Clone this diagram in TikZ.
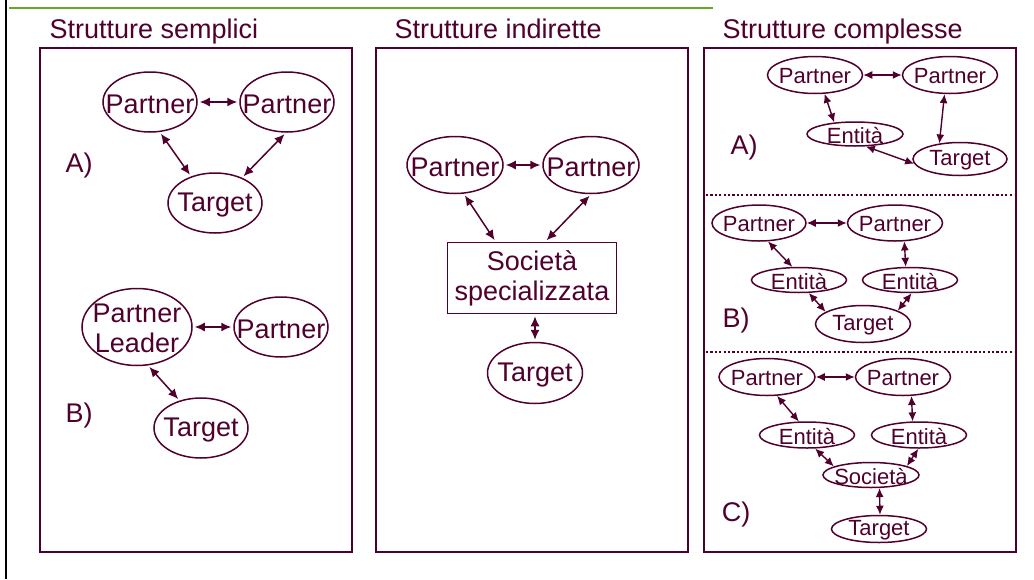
\documentclass[tikz,border=0pt]{standalone}
\usepackage{fontspec}
\setmainfont{Liberation Sans}
\usepackage{xcolor}
\usepackage{tikz}
\usetikzlibrary{shapes.geometric, arrows.meta}

\definecolor{vinaccia}{RGB}{80,0,45}
\definecolor{verde}{RGB}{100,170,40}

\tikzset{
  ovale/.style={ellipse, draw=vinaccia, line width=1.5pt, inner sep=0pt},
  grande/.style={font=\fontsize{27}{30}\selectfont, text=vinaccia},
  piccolo/.style={font=\fontsize{22}{24}\selectfont, text=vinaccia},
  freccia/.style={{Latex[length=10pt,width=9pt]}-{Latex[length=10pt,width=9pt]},
    draw=vinaccia, line width=1.5pt, shorten <=2pt, shorten >=2pt},
  freccina/.style={{Latex[length=9pt,width=8pt]}-{Latex[length=9pt,width=8pt]},
    draw=vinaccia, line width=1.4pt},
  pannello/.style={draw=vinaccia, line width=2pt},
  separa/.style={draw=vinaccia, line width=2.2pt, dash pattern=on 2.2pt off 2.2pt},
}

\begin{document}
\begin{tikzpicture}[x=1pt,y=-1pt]
    \useasboundingbox (0,0) rectangle (1034,579);
    \draw[line width=2pt] (6,0) -- (6,579);
    \draw[verde, line width=2pt] (9,8) -- (713,8);

    % pannelli
    \draw[pannello] (40,48) rectangle (352,552);
    \draw[pannello] (376,48) rectangle (688,552);
    \draw[pannello] (704,48) rectangle (1016,552);
    \draw[separa] (706,195) -- (1014,195);
    \draw[separa] (706,352) -- (1014,352);

    \node[grande, anchor=base west] (tsemplici) at (46,38) {Strutture semplici};
    \node[grande, anchor=base west] (tindirette) at (391,38) {Strutture indirette};
    \node[grande, anchor=base west] (tcomplesse) at (719,38) {Strutture complesse};

    % strutture semplici
    \foreach \n/\x/\y/\w/\h/\t in {
        p1a/150/102/94/60/Partner,
        p2a/287/102/94/60/Partner,
        ta/215/203/94/60/Target,
        p2b/281/327/94/60/Partner,
        tb/201/428/94/60/Target,
        mp1/455/165/96/57/Partner,
        mp2/591/165/96/57/Partner,
        mt/535/373/95/61/Target
    }{
        \node[ovale, minimum width=\w pt, minimum height=\h pt,
            label={[grande, yshift=-2pt]center:\t}] (\n) at (\x,\y) {};
    }
    \node[ovale, minimum width=110pt, minimum height=77pt,
        label={[grande, align=center, yshift=-1pt]center:Partner\\Leader}] (pl) at (137,327) {};
    \node[grande] (labA) at (79,166) {A)};
    \node[grande] (labB) at (79,416) {B)};

    \draw[freccia] (p1a) -- (p2a);
    \draw[freccia] (p1a.-72) -- (ta.132);
    \draw[freccia] (p2a.-92) -- (ta.43);
    \draw[freccia] (pl) -- (p2b);
    \draw[freccia] (pl.-74) -- (tb.128);

    % strutture indirette
    \node[pannello, line width=1.5pt, minimum width=169pt, minimum height=71pt,
        inner sep=0pt, align=center, grande] (soc) at (532,278) {Società\\specializzata};
    \draw[freccia] (mp1) -- (mp2);
    \draw[freccia] (mp1.-73) -- (soc.135);
    \draw[freccia] (mp2.south) -- (soc.70);
    \draw[freccia] (soc.south -| mt) -- (mt.north);

    % strutture complesse
    \foreach \n/\x/\y/\w/\h/\t in {
        rAp1/815/75/95/37/Partner,
        rAp2/950/75/95/37/Partner,
        rAe/855/134/96/24/Entità,
        rAt/960/159/94/33/Target,
        rBp1/759/223/94/36/Partner,
        rBp2/895/223/95/36/Partner,
        rBe1/799/280/95/25/Entità,
        rBe2/910/280/95/25/Entità,
        rBt/863/324/95/37/Target,
        rCp1/767/377/96/37/Partner,
        rCp2/903/377/95/37/Partner,
        rCe1/807/435/95/26/Entità,
        rCe2/919/435/95/26/Entità,
        rCs/871/475/96/25/Società,
        rCt/879/529/95/27/Target
    }{
        \node[ovale, minimum width=\w pt, minimum height=\h pt,
            label={[piccolo, yshift=-1.5pt]center:\t}] (\n) at (\x,\y) {};
    }
    \node[grande] (labrA) at (744,148) {A)};
    \node[grande] (labrB) at (736,321) {B)};
    \node[grande] (labrC) at (736,515) {C)};

    \draw[freccina] (rAp1) -- (rAp2);
    \draw[freccina] (rAp1.-63) -- (rAe.151);
    \draw[freccina] (rAp2.-106) -- (rAt.143);
    \draw[freccina] (rAe.-49) -- (rAt.-174);

    \draw[freccina] (rBp1) -- (rBp2);
    \draw[freccina] (rBp1.-64) -- (rBe1.117);
    \draw[freccina] (rBp2.-63) -- (rBe2.108);
    \draw[freccina] (rBe1.-53) -- (rBt.162);
    \draw[freccina] (rBe2.-83) -- (rBt.21);

    \draw[freccina] (rCp1) -- (rCp2);
    \draw[freccina] (rCp1.-62) -- (rCe1.121);
    \draw[freccina] (rCp2.-66) -- (rCe2.115);
    \draw[freccina] (rCe1.-59) -- (rCs.167);
    \draw[freccina] (rCe2.-93) -- (rCs.14);
    \draw[freccina] (rCs.-57) -- (rCt.86);
\end{tikzpicture}
\end{document}
